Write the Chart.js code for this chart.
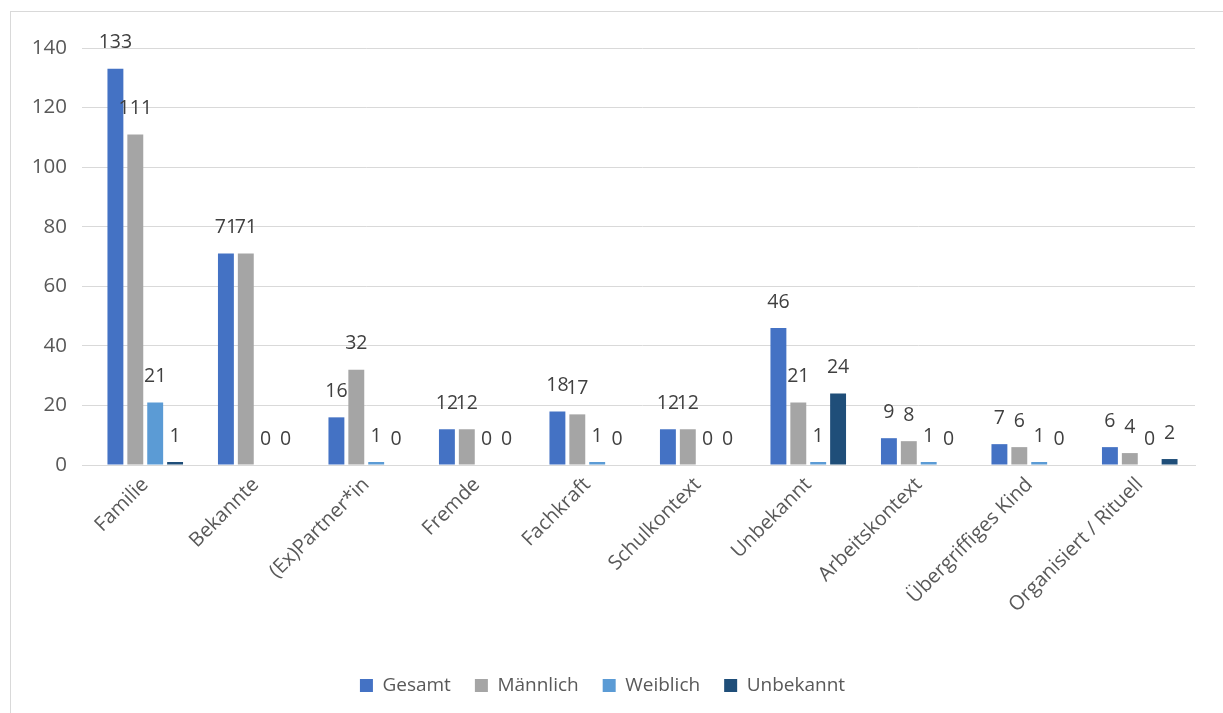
<!DOCTYPE html>
<html>
<head>
<meta charset="utf-8">
<script src="https://cdn.jsdelivr.net/npm/chart.js@4"></script>
<style>
  body { margin: 0; background: #fff; }
  #frame { position: absolute; left: 10px; top: 11px; width: 1400px; height: 900px; border: 1px solid #d9d9d9; }
  #wrap { position: absolute; left: 0; top: 0; width: 1223px; height: 713px; }
</style>
</head>
<body>
<div id="frame"></div>
<div id="wrap"><canvas id="chart"></canvas></div>
<script>
// Kategorien und Werte
const categories = ['Familie', 'Bekannte', '(Ex)Partner*in', 'Fremde', 'Fachkraft', 'Schulkontext', 'Unbekannt', 'Arbeitskontext', 'Übergriffiges Kind', 'Organisiert / Rituell'];
const gesamt    = [133, 71, 16, 12, 18, 12, 46, 9, 7, 6];
const maennlich = [111, 71, 32, 12, 17, 12, 21, 8, 6, 4];
const weiblich  = [21, 0, 1, 0, 1, 0, 1, 1, 1, 0];
const unbekannt = [1, 0, 0, 0, 0, 0, 24, 0, 0, 2];
const yTicks = [0, 20, 40, 60, 80, 100, 120, 140];

const FONT = '"Open Sans", "Liberation Sans", sans-serif';

// Datenbeschriftungen über den Balken
const valueLabels = {
  id: 'valueLabels',
  afterDatasetsDraw(chart) {
    const ctx = chart.ctx;
    ctx.save();
    ctx.font = '19.5px ' + FONT;
    ctx.fillStyle = '#404040';
    ctx.textAlign = 'center';
    ctx.textBaseline = 'middle';
    chart.data.datasets.forEach((ds, i) => {
      const meta = chart.getDatasetMeta(i);
      meta.data.forEach((bar, j) => {
        ctx.fillText(String(ds.data[j]), bar.x, bar.y - 26);
      });
    });
    ctx.restore();
  }
};

new Chart(document.getElementById('chart'), {
  type: 'bar',
  data: {
    labels: categories,
    datasets: [
      { label: 'Gesamt', data: gesamt, backgroundColor: '#4472c4' },
      { label: 'Männlich', data: maennlich, backgroundColor: '#a5a5a5' },
      { label: 'Weiblich', data: weiblich, backgroundColor: '#5b9bd5' },
      { label: 'Unbekannt', data: unbekannt, backgroundColor: '#1f4e79' }
    ]
  },
  options: {
    responsive: true,
    maintainAspectRatio: false,
    animation: false,
    datasets: { bar: { categoryPercentage: 0.72, barPercentage: 0.8 } },
    layout: { padding: { left: 10, right: 28, top: 48, bottom: 8 } },
    plugins: {
      legend: {
        position: 'bottom',
        labels: { boxWidth: 13, boxHeight: 13, color: '#595959', font: { family: FONT, size: 19 }, padding: 24 }
      },
      tooltip: { enabled: false }
    },
    scales: {
      x: {
        grid: { display: false },
        border: { color: '#d9d9d9' },
        ticks: { color: '#595959', font: { family: FONT, size: 20 }, minRotation: 45, maxRotation: 45, padding: 0 },
        afterFit(scale) { scale.height = 187; }
      },
      y: {
        min: 0, max: 140,
        afterBuildTicks(scale) { scale.ticks = yTicks.map(v => ({ value: v })); },
        grid: { color: '#d9d9d9' },
        border: { display: false },
        ticks: { color: '#595959', font: { family: FONT, size: 20.5 }, padding: 15 },
        afterFit(scale) { scale.width = 80; }
      }
    }
  },
  plugins: [valueLabels]
});
</script>
</body>
</html>
